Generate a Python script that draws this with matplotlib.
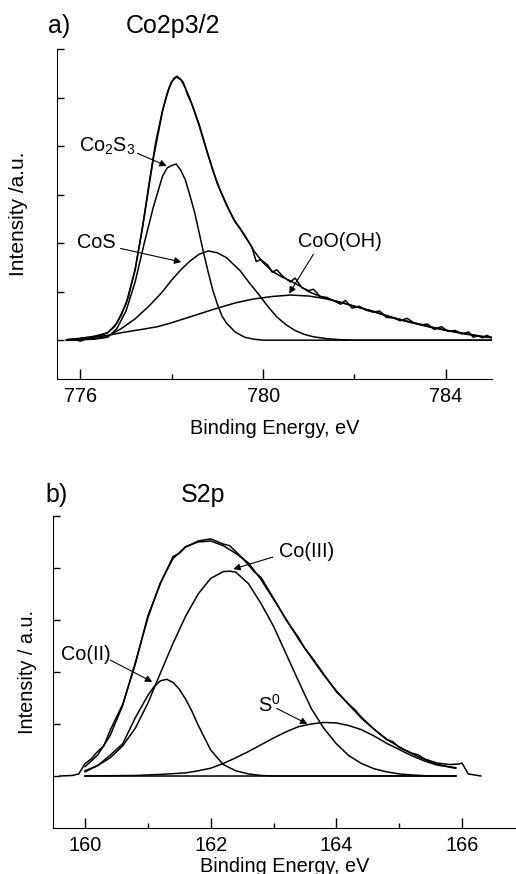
import matplotlib
matplotlib.use("Agg")
import matplotlib.pyplot as plt

plt.rcParams["font.family"] = ["Liberation Sans", "DejaVu Sans"]
plt.rcParams["mathtext.default"] = "regular"

# ---- a) Co2p3/2 ----
co_raw_x = [775.7, 775.85, 776.0, 776.15, 776.3, 776.45, 776.6, 776.75, 776.9, 777.05,
            777.2, 777.35, 777.5, 777.65, 777.8, 777.95, 778.05, 778.12, 778.25, 778.35,
            778.45, 778.6, 778.75, 778.9, 779.05, 779.2, 779.35, 779.5, 779.6, 779.75,
            779.85, 779.95, 780.1, 780.2, 780.3, 780.45, 780.6, 780.7, 780.85, 781.0,
            781.1, 781.25, 781.4, 781.55, 781.7, 781.8, 781.95, 782.1, 782.25, 782.4,
            782.55, 782.7, 782.85, 783.0, 783.15, 783.3, 783.45, 783.6, 783.75, 783.9,
            784.05, 784.2, 784.35, 784.5, 784.6, 784.7, 784.8, 784.9, 785.0]
co_raw_y = [0.01, 0.02, -0.02, 0.04, 0.07, 0.10, 0.16, 0.28, 0.52, 0.88,
            1.46, 2.25, 3.20, 4.08, 4.74, 5.22, 5.40, 5.44, 5.32, 5.05,
            4.85, 4.45, 3.97, 3.50, 3.12, 2.80, 2.50, 2.30, 2.14, 1.93,
            1.62, 1.66, 1.55, 1.40, 1.45, 1.30, 1.20, 1.28, 1.08, 1.02,
            1.05, 0.90, 0.88, 0.81, 0.74, 0.82, 0.66, 0.70, 0.62, 0.58,
            0.60, 0.47, 0.46, 0.40, 0.45, 0.36, 0.32, 0.33, 0.22, 0.28,
            0.18, 0.20, 0.13, 0.17, 0.06, 0.09, 0.05, 0.10, 0.05]

co_fit_x = [775.7, 776.0, 776.3, 776.6, 776.8, 777.0, 777.2, 777.4, 777.6, 777.8,
            777.9, 778.0, 778.1, 778.2, 778.3, 778.4, 778.5, 778.6, 778.8, 779.0,
            779.2, 779.4, 779.6, 779.8, 780.0, 780.2, 780.4, 780.6, 780.8, 781.0,
            781.2, 781.4, 781.7, 782.0, 782.4, 782.8, 783.2, 783.6, 784.0, 784.4,
            784.8, 785.0]
co_fit_y = [0.01, 0.04, 0.08, 0.15, 0.35, 0.75, 1.45, 2.55, 3.75, 4.72,
            5.09, 5.33, 5.42, 5.37, 5.20, 4.97, 4.70, 4.42, 3.80, 3.22,
            2.78, 2.42, 2.16, 1.84, 1.60, 1.42, 1.31, 1.22, 1.12, 1.00,
            0.92, 0.85, 0.78, 0.70, 0.60, 0.48, 0.38, 0.29, 0.21, 0.14,
            0.08, 0.06]

co2s3_x = [775.7, 776.0, 776.3, 776.6, 776.8, 777.0, 777.2, 777.4, 777.6, 777.8,
           777.9, 778.0, 778.1, 778.2, 778.3, 778.4, 778.5, 778.6, 778.7, 778.8,
           778.9, 779.0, 779.1, 779.2, 779.4, 779.6, 779.8, 780.0, 785.0]
co2s3_y = [0.0, 0.01, 0.02, 0.06, 0.24, 0.60, 1.20, 2.00, 2.75, 3.38,
           3.55, 3.60, 3.63, 3.50, 3.30, 2.98, 2.64, 2.22, 1.79, 1.40,
           1.03, 0.74, 0.50, 0.35, 0.16, 0.06, 0.02, 0.0, 0.0]

cos_x = [775.7, 776.0, 776.3, 776.6, 776.9, 777.2, 777.5, 777.8, 778.0, 778.2,
         778.4, 778.6, 778.8, 779.0, 779.2, 779.4, 779.5, 779.7, 779.9, 780.1,
         780.3, 780.5, 780.7, 780.9, 781.1, 781.4, 781.7, 782.0, 785.0]
cos_y = [0.0, 0.01, 0.03, 0.08, 0.24, 0.44, 0.70, 1.00, 1.24, 1.45,
         1.63, 1.77, 1.84, 1.80, 1.70, 1.52, 1.43, 1.18, 0.95, 0.70,
         0.48, 0.32, 0.20, 0.12, 0.07, 0.03, 0.01, 0.0, 0.0]

cooh_x = [775.7, 776.0, 776.3, 776.6, 777.0, 777.4, 777.7, 778.0, 778.4, 778.7,
          779.0, 779.4, 779.8, 780.2, 780.6, 781.0, 781.4, 781.7, 782.0, 782.4,
          782.8, 783.2, 783.6, 784.0, 784.4, 784.8, 785.0]
cooh_y = [0.0, 0.03, 0.06, 0.10, 0.17, 0.23, 0.28, 0.36, 0.48, 0.57,
          0.66, 0.77, 0.85, 0.90, 0.93, 0.91, 0.85, 0.78, 0.70, 0.59,
          0.47, 0.37, 0.28, 0.20, 0.13, 0.07, 0.05]

# ---- b) S2p ----
s_raw_x = [159.6, 159.8, 159.9, 160.0, 160.1, 160.2, 160.3, 160.4, 160.6, 160.8,
           161.0, 161.2, 161.4, 161.5, 161.6, 161.8, 162.0, 162.2, 162.3, 162.5,
           162.7, 162.8, 163.0, 163.2, 163.4, 163.5, 163.6, 163.8, 164.0, 164.2,
           164.3, 164.4, 164.6, 164.8, 164.9, 165.0, 165.2, 165.3, 165.4, 165.6,
           165.8, 165.95, 166.0, 166.1, 166.3]
s_raw_y = [0.0, 0.01, 0.04, 0.24, 0.33, 0.47, 0.58, 0.88, 1.38, 2.15,
           3.08, 3.70, 4.22, 4.28, 4.40, 4.52, 4.56, 4.46, 4.43, 4.20,
           3.92, 3.82, 3.42, 3.00, 2.66, 2.45, 2.30, 1.96, 1.62, 1.38,
           1.27, 1.13, 0.90, 0.70, 0.66, 0.55, 0.44, 0.41, 0.33, 0.25,
           0.22, 0.23, 0.25, 0.04, 0.0]

s_fit_x = [160.0, 160.2, 160.4, 160.6, 160.8, 161.0, 161.2, 161.4, 161.6, 161.8,
           162.0, 162.2, 162.4, 162.6, 162.8, 163.0, 163.2, 163.4, 163.6, 163.8,
           164.0, 164.2, 164.4, 164.6, 164.8, 165.0, 165.2, 165.4, 165.6, 165.8,
           165.9]
s_fit_y = [0.18, 0.40, 0.78, 1.36, 2.18, 3.04, 3.72, 4.18, 4.41, 4.50,
           4.52, 4.43, 4.28, 4.10, 3.78, 3.40, 3.02, 2.63, 2.28, 1.94,
           1.64, 1.37, 1.11, 0.90, 0.71, 0.56, 0.43, 0.32, 0.23, 0.17,
           0.15]

co3_x = [160.0, 160.2, 160.4, 160.6, 160.8, 161.0, 161.2, 161.4, 161.6, 161.8,
         162.0, 162.2, 162.3, 162.4, 162.6, 162.8, 163.0, 163.2, 163.4, 163.6,
         163.8, 164.0, 164.2, 164.4, 164.6, 164.8, 165.0, 165.2, 165.5, 165.9]
co3_y = [0.10, 0.20, 0.35, 0.58, 0.92, 1.40, 1.98, 2.55, 3.07, 3.50,
         3.80, 3.93, 3.94, 3.92, 3.70, 3.32, 2.88, 2.35, 1.82, 1.30,
         0.92, 0.62, 0.39, 0.24, 0.14, 0.08, 0.04, 0.02, 0.0, 0.0]

co2_x = [160.0, 160.2, 160.4, 160.6, 160.8, 161.0, 161.1, 161.2, 161.3, 161.4,
         161.5, 161.6, 161.7, 161.8, 162.0, 162.2, 162.4, 162.6, 162.8, 163.0,
         165.9]
co2_y = [0.08, 0.20, 0.40, 0.62, 1.12, 1.55, 1.72, 1.83, 1.86, 1.80,
         1.67, 1.48, 1.25, 0.98, 0.50, 0.22, 0.10, 0.04, 0.01, 0.0,
         0.0]

s0_x = [160.0, 160.8, 161.2, 161.6, 161.8, 162.0, 162.2, 162.4, 162.6, 162.8,
        163.0, 163.2, 163.4, 163.6, 163.8, 164.0, 164.2, 164.4, 164.6, 164.8,
        165.0, 165.2, 165.4, 165.6, 165.9]
s0_y = [0.0, 0.01, 0.03, 0.06, 0.10, 0.15, 0.24, 0.35, 0.47, 0.60,
        0.73, 0.85, 0.95, 1.00, 1.03, 1.02, 0.97, 0.89, 0.77, 0.63,
        0.51, 0.39, 0.29, 0.21, 0.16]

s_base_x = [160.0, 165.9]
s_base_y = [0.0, 0.0]

W, H = 516, 874
FS = 14.3
LW = 1.1

fig = plt.figure(figsize=(W / 100, H / 100), dpi=100)


def px_axes(l, t, r, b):
    return fig.add_axes([l / W, 1 - b / H, (r - l) / W, (b - t) / H])


def style(ax):
    for s in ("top", "right"):
        ax.spines[s].set_visible(False)
    ax.tick_params(axis="x", which="major", direction="in", length=7, width=1,
                   labelsize=FS, pad=6)
    ax.tick_params(axis="x", which="minor", direction="in", length=3.5, width=1)
    ax.tick_params(axis="y", which="major", direction="in", length=5, width=1,
                   labelleft=False)


def arrow(ax, tail, head):
    ax.annotate("", xy=head, xytext=tail,
                arrowprops=dict(arrowstyle="-|>", color="k", lw=0.8,
                                mutation_scale=10, shrinkA=0, shrinkB=0))


# top panel
ax1 = px_axes(57, 49, 492, 379)
for x, y in [(co_raw_x, co_raw_y), (co_fit_x, co_fit_y), (co2s3_x, co2s3_y),
             (cos_x, cos_y), (cooh_x, cooh_y)]:
    ax1.plot(x, y, color="k", lw=LW)
ax1.set_xlim(775.49, 785.01)
ax1.set_ylim(-0.8, 6.0)
ax1.set_xticks([776, 780, 784])
ax1.set_xticks([778, 782], minor=True)
ax1.set_yticks([0, 1, 2, 3, 4, 5, 6])
style(ax1)
ax1.set_xlabel("Binding Energy, eV", fontsize=FS, labelpad=9)
ax1.set_ylabel("Intensity /a.u.", fontsize=FS + 0.7)
ax1.yaxis.set_label_coords(-0.066, 0.5)

ax1.text(775.98, 3.88, "Co$_2$S$_3$", fontsize=FS, ha="left", va="baseline")
arrow(ax1, (777.25, 3.85), (777.89, 3.59))
ax1.text(775.92, 1.90, "CoS", fontsize=FS, ha="left", va="baseline")
arrow(ax1, (776.88, 1.89), (778.21, 1.61))
ax1.text(780.77, 1.92, "CoO(OH)", fontsize=FS, ha="left", va="baseline")
arrow(ax1, (781.10, 1.77), (780.57, 0.96))

fig.text(48 / W, 1 - 33 / H, "a)", fontsize=18, ha="left", va="baseline")
fig.text(126 / W, 1 - 33 / H, "Co2p3/2", fontsize=18, ha="left", va="baseline")

# bottom panel
ax2 = px_axes(53, 516, 516, 828)
for x, y in [(s_raw_x, s_raw_y), (s_fit_x, s_fit_y), (co3_x, co3_y),
             (co2_x, co2_y), (s0_x, s0_y), (s_base_x, s_base_y)]:
    ax2.plot(x, y, color="k", lw=LW)
ax2.set_xlim(159.49, 166.86)
ax2.set_ylim(-1.0, 5.0)
ax2.set_xticks([160, 162, 164, 166])
ax2.set_xticks([161, 163, 165], minor=True)
ax2.set_yticks([0, 1, 2, 3, 4, 5])
style(ax2)
ax2.set_xlabel("Binding Energy, eV", fontsize=FS, labelpad=1)
ax2.set_ylabel("Intensity / a.u.", fontsize=FS)
ax2.yaxis.set_label_coords(-0.035, 0.5)

ax2.text(163.08, 4.21, "Co(III)", fontsize=FS, ha="left", va="baseline")
arrow(ax2, (162.99, 4.21), (162.36, 3.98))
ax2.text(159.62, 2.23, "Co(II)", fontsize=FS, ha="left", va="baseline")
arrow(ax2, (160.40, 2.23), (161.07, 1.81))
ax2.text(162.76, 1.24, "S$^0$", fontsize=FS, ha="left", va="baseline")
arrow(ax2, (163.05, 1.30), (163.54, 1.00))

fig.text(45 / W, 1 - 502 / H, "b)", fontsize=18, ha="left", va="baseline")
fig.text(181 / W, 1 - 502 / H, "S2p", fontsize=18, ha="left", va="baseline")

fig.savefig("out.png", dpi=100)
